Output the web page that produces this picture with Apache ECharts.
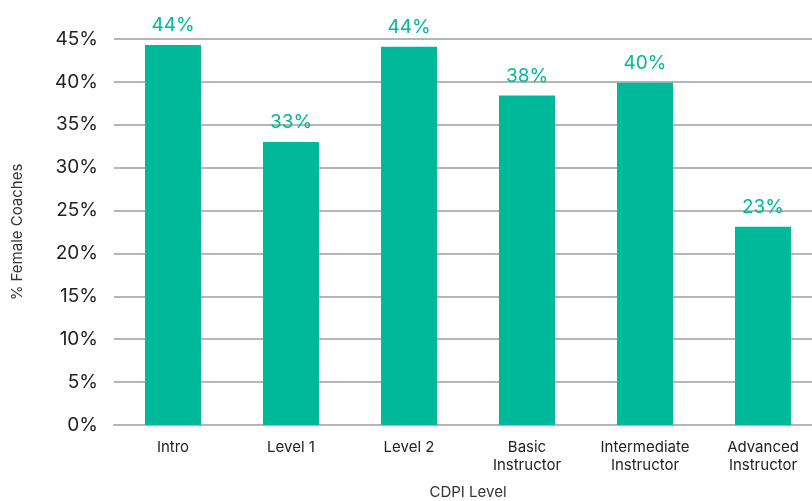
<!DOCTYPE html>
<html>
<head>
<meta charset="utf-8">
<script src="https://cdn.jsdelivr.net/npm/echarts@6/dist/echarts.min.js"></script>
<style>
  html, body { margin: 0; padding: 0; background: #fff; }
  #chart { width: 812px; height: 501px; }
</style>
</head>
<body>
<div id="chart"></div>
<script>
// categories and values
var levels = ['Intro', 'Level 1', 'Level 2', 'Basic\nInstructor', 'Intermediate\nInstructor', 'Advanced\nInstructor'];
var femalePct = [44.3, 33.0, 44.1, 38.4, 39.9, 23.1];
var yTicks = [0, 5, 10, 15, 20, 25, 30, 35, 40, 45];

var teal = '#00B99A';
var font = 'Inter, Lato, sans-serif';

var myChart = echarts.init(document.getElementById('chart'));
myChart.setOption({
    animation: false,
    grid: {
        left: 114,
        top: 39,
        width: 708,
        bottom: 76,
        outerBoundsMode: 'none',
        containLabel: false
    },
    xAxis: {
        type: 'category',
        data: levels,
        name: 'CDPI Level',
        nameLocation: 'middle',
        nameGap: 60,
        nameTextStyle: { color: '#333', fontSize: 15, fontFamily: font },
        axisLine: { lineStyle: { color: '#b5b5b5', width: 2 } },
        axisTick: { show: false },
        axisLabel: {
            color: '#222',
            fontSize: 15,
            fontFamily: font,
            lineHeight: 18,
            margin: 13,
            interval: 0
        }
    },
    yAxis: {
        type: 'value',
        min: yTicks[0],
        max: yTicks[yTicks.length - 1],
        interval: 5,
        name: '% Female Coaches',
        nameLocation: 'middle',
        nameGap: 89,
        nameTextStyle: { color: '#333', fontSize: 15, fontFamily: font },
        axisLine: { show: false },
        axisTick: { show: false },
        splitLine: { lineStyle: { color: '#b5b5b5', width: 2 } },
        axisLabel: {
            color: '#222',
            fontSize: 19,
            fontFamily: font,
            margin: 16,
            formatter: '{value}%'
        }
    },
    series: [{
        type: 'bar',
        data: femalePct,
        barWidth: 56,
        itemStyle: { color: teal },
        label: {
            show: true,
            position: 'top',
            distance: 10,
            color: teal,
            fontSize: 19,
            fontFamily: font,
            formatter: function (p) {
                return Math.round(p.value) + '%';
            }
        }
    }]
});
</script>
</body>
</html>
